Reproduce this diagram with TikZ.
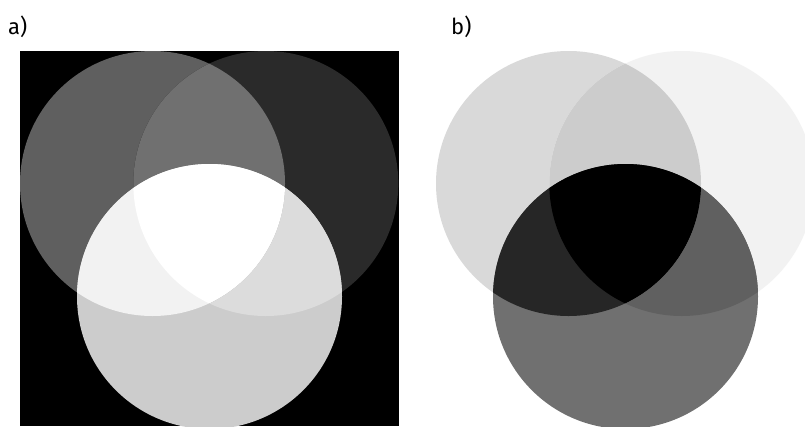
\documentclass[tikz,border=0pt]{standalone}
\usepackage{fontspec}
\usepackage{xcolor}
\usepackage{tikz}
\newfontfamily\mixFont{Fira Sans}
% a) additive mixing on black
\definecolor{aBack}{HTML}{000000}
\definecolor{aL}{HTML}{5F5F5F}
\definecolor{aR}{HTML}{2A2A2A}
\definecolor{aB}{HTML}{CCCCCC}
\definecolor{aLR}{HTML}{707070}
\definecolor{aLB}{HTML}{F2F2F2}
\definecolor{aRB}{HTML}{DCDCDC}
\definecolor{aLRB}{HTML}{FFFFFF}
% b) subtractive mixing on white
\definecolor{bBack}{HTML}{FFFFFF}
\definecolor{bL}{HTML}{D9D9D9}
\definecolor{bR}{HTML}{F2F2F2}
\definecolor{bB}{HTML}{707070}
\definecolor{bLR}{HTML}{CCCCCC}
\definecolor{bLB}{HTML}{262626}
\definecolor{bRB}{HTML}{606060}
\definecolor{bLRB}{HTML}{000000}

\begin{document}
\begin{tikzpicture}[x=1pt, y=-1pt]
  \useasboundingbox (0,0) rectangle (805,426);
  \fill[bBack] (0,0) rectangle (805,426);
  \fill[aBack] (20,51) rectangle (399,426);
  \foreach \p/\dx in {a/0, b/416}{%
    \coordinate (\p L) at (152.5+\dx,183.5);
    \coordinate (\p R) at (265.8+\dx,183.5);
    \coordinate (\p B) at (209.5+\dx,296.5);
    \fill[\p L] (\p L) circle (132.5);
    \fill[\p R] (\p R) circle (132.5);
    \fill[\p B] (\p B) circle (132.5);
    % right + bottom
    \begin{scope}
      \clip (\p R) circle (132.5);
      \fill[\p RB] (\p B) circle (132.5);
    \end{scope}
    % left + right, left + bottom, all three
    \begin{scope}
      \clip (\p L) circle (132.5);
      \fill[\p LR] (\p R) circle (132.5);
      \fill[\p LB] (\p B) circle (132.5);
      \clip (\p R) circle (132.5);
      \fill[\p LRB] (\p B) circle (132.5);
    \end{scope}
  }
  \node[font=\mixFont\fontsize{22}{26}\selectfont, anchor=base west, inner sep=0pt] (labA) at (8,34) {a)};
  \node[font=\mixFont\fontsize{22}{26}\selectfont, anchor=base west, inner sep=0pt] (labB) at (451,34) {b)};
\end{tikzpicture}
\end{document}
